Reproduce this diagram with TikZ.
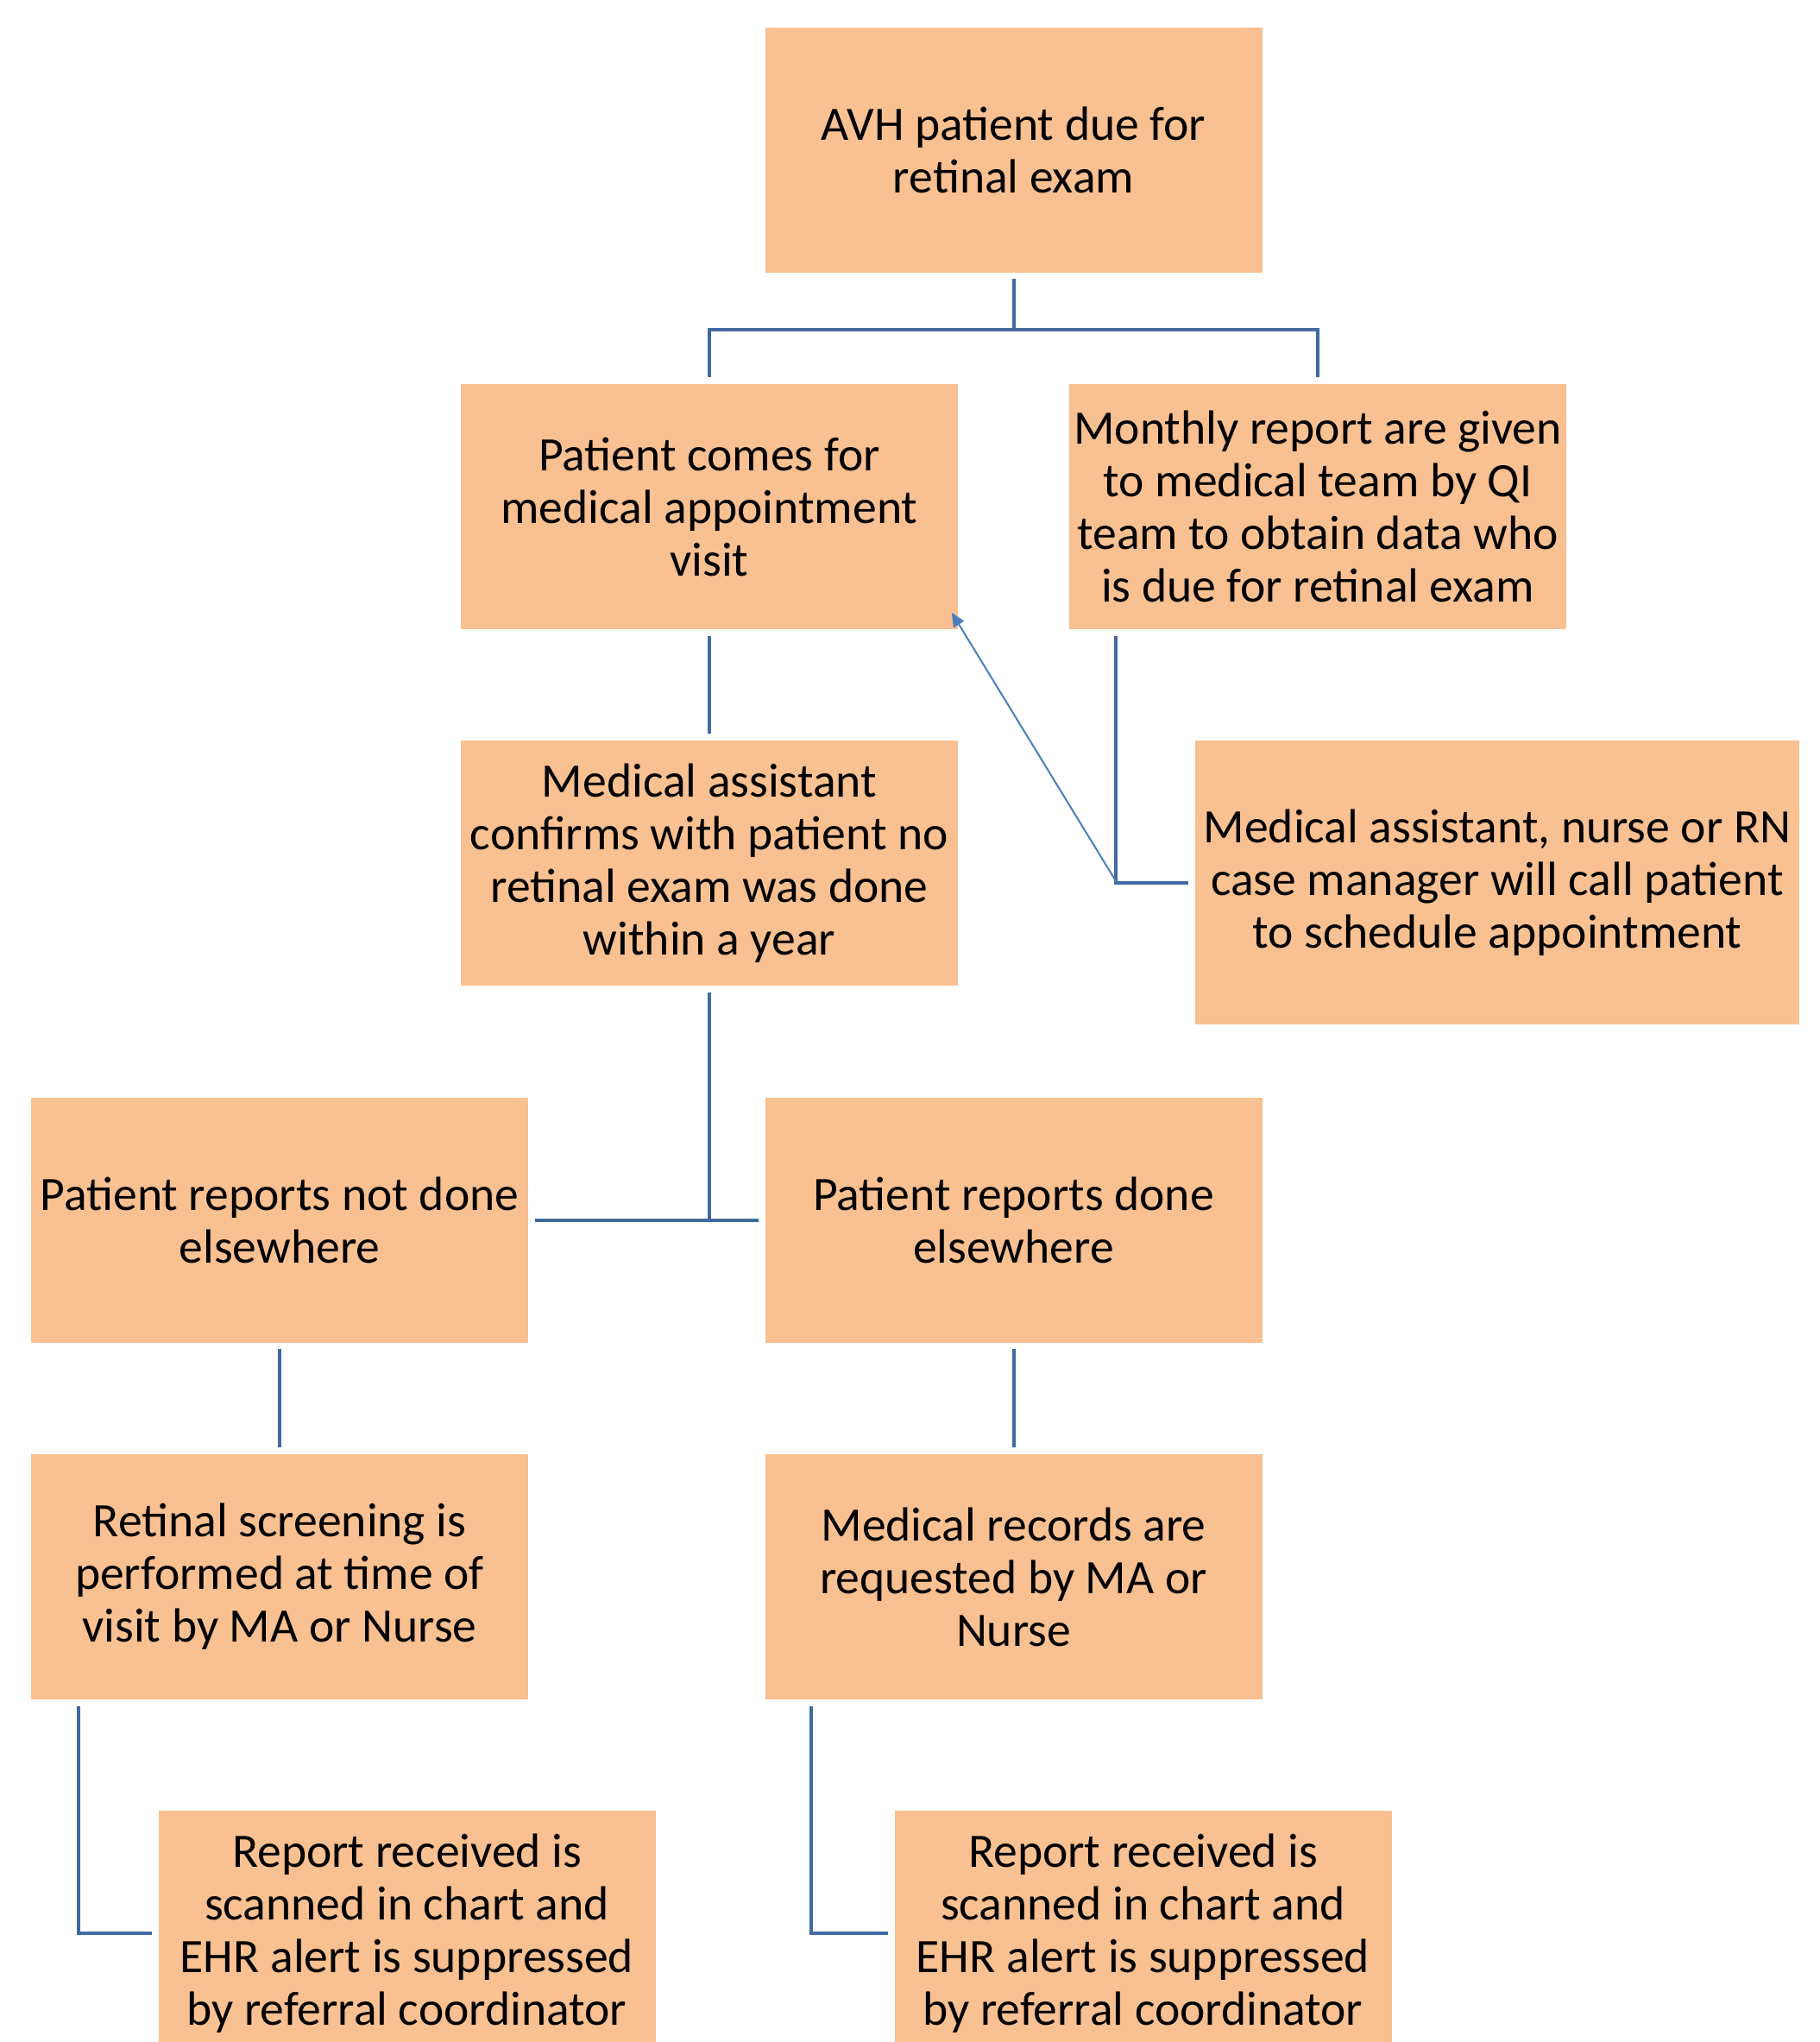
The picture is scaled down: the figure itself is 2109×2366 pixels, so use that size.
\documentclass[tikz,border=0pt]{standalone}
\usepackage{fontspec}
\setmainfont{Carlito}
\usetikzlibrary{arrows.meta}
\definecolor{boxfill}{RGB}{249,192,145}
\definecolor{linkblue}{RGB}{65,106,160}
\definecolor{arrowblue}{RGB}{74,126,187}
\tikzset{
  stepbox/.style={fill=boxfill,minimum width=144pt,minimum height=71pt,
    inner sep=0pt,align=center,font=\fontsize{13.9}{15.25}\selectfont},
  link/.style={draw=linkblue,line width=1pt,shorten <=1.75pt,shorten >=1.75pt},
  pointer/.style={draw=arrowblue,line width=0.5pt,-{Triangle[length=4pt,width=3.5pt]}}
}

\begin{document}
\begin{tikzpicture}[x=0.25pt,y=-0.25pt]
          \useasboundingbox (0,0) rectangle (2109,2366);
          \clip (0,0) rectangle (2109,2366);
          % vertices
          \node[stepbox] (avh) at (1174.5,173.5) {AVH patient due for\\retinal exam};
          \node[stepbox] (visit) at (822,587) {Patient comes for\\medical appointment\\visit};
          \node[stepbox] (monthly) at (1527,587) {Monthly report are given\\to medical team by QI\\team to obtain data who\\is due for retinal exam};
          \node[stepbox] (confirm) at (822,1000) {Medical assistant\\confirms with patient no\\retinal exam was done\\within a year};
          \node[stepbox,minimum width=175pt,minimum height=82.25pt] (call) at (1735,1022.5) {Medical assistant, nurse or RN\\case manager will call patient\\to schedule appointment};
          \node[stepbox] (notdone) at (324,1413.5) {Patient reports not done\\elsewhere};
          \node[stepbox] (done) at (1174.5,1413.5) {Patient reports done\\elsewhere};
          \node[stepbox] (screen) at (324,1827) {Retinal screening is\\performed at time of\\visit by MA or Nurse};
          \node[stepbox] (records) at (1174.5,1827) {Medical records are\\requested by MA or\\Nurse};
          \node[stepbox] (repa) at (471.5,2240) {Report received is\\scanned in chart and\\EHR alert is suppressed\\by referral coordinator};
          \node[stepbox] (repb) at (1324.5,2240) {Report received is\\scanned in chart and\\EHR alert is suppressed\\by referral coordinator};
          \coordinate (knee) at (1294,1022.5);
          % edges
          \draw[link] (avh.south) -- ++(0,66) -| (visit.north);
          \draw[link] (avh.south) -- ++(0,66) -| (monthly.north);
          \draw[link] (visit) -- (confirm);
          \draw[link,shorten >=0pt] (confirm.south) -- (confirm.south |- notdone.east);
          \draw[link] (notdone.east) -- (done.west);
          \draw[link] ([xshift=13.75pt]monthly.south west) |- (call.west);
          \draw[pointer] (knee) -- ([xshift=-2pt,yshift=5pt]visit.south east);
          \draw[link] (notdone) -- (screen);
          \draw[link] (done) -- (records);
          \draw[link] ([xshift=14pt]screen.south west) |- (repa.west);
          \draw[link] ([xshift=13.5pt]records.south west) |- (repb.west);
        \end{tikzpicture}
\end{document}
